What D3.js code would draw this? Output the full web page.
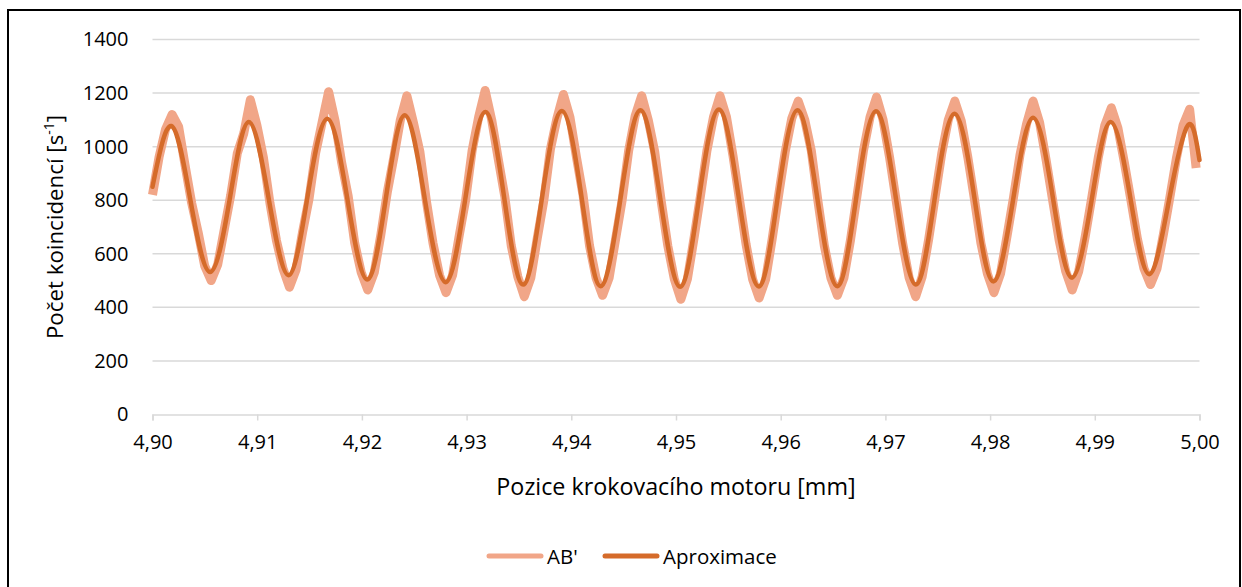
<!DOCTYPE html>
<html>
<head>
<meta charset="utf-8">
<script src="https://cdn.jsdelivr.net/npm/d3@7/dist/d3.min.js"></script>
<style>
  html, body { margin: 0; padding: 0; background: #ffffff; }
  svg { display: block; }
  text { font-family: "Open Sans", "Noto Sans", sans-serif; fill: #000; }
</style>
</head>
<body>
<svg id="chart" width="1242" height="587"></svg>
<script>
// ---------------- data ----------------
const yTicks = [0, 200, 400, 600, 800, 1000, 1200, 1400];
const xTicks = [4.90, 4.91, 4.92, 4.93, 4.94, 4.95, 4.96, 4.97, 4.98, 4.99, 5.00];
const seriesNames = ["AB'", "Aproximace"];

// Measured series AB' (uniform motor-step grid)
const abStart = 4.9000;
const abStep = 0.000623;
const abValues = [
  820, 960, 1065, 1120, 1075, 930, 790, 680, 555, 500,
  560, 690, 820, 975, 1050, 1175, 1080, 960, 790, 650,
  545, 475, 540, 680, 805, 975, 1090, 1205, 1095, 940,
  815, 640, 530, 465, 530, 670, 830, 960, 1100, 1190,
  1090, 980, 795, 640, 520, 455, 520, 665, 800, 985,
  1110, 1210, 1100, 955, 815, 630, 515, 440, 510, 660,
  800, 990, 1105, 1195, 1110, 960, 820, 630, 510, 445,
  510, 655, 800, 985, 1115, 1190, 1100, 980, 795, 630,
  505, 430, 505, 655, 815, 985, 1110, 1190, 1110, 965,
  800, 635, 505, 435, 505, 655, 820, 980, 1105, 1170,
  1100, 985, 800, 630, 510, 445, 510, 650, 815, 985,
  1110, 1185, 1100, 960, 800, 640, 510, 440, 515, 655,
  815, 975, 1100, 1170, 1095, 960, 805, 640, 525, 455,
  525, 665, 810, 970, 1085, 1170, 1090, 950, 800, 650,
  535, 465, 535, 665, 810, 960, 1080, 1145, 1070, 940,
  800, 655, 545, 485, 545, 675, 815, 960, 1080, 1140,
  920
];

// Fitted curve "Aproximace": positions and values read at peaks, troughs and mid-crossings
const aproxX = [
  4.9000, 4.9018, 4.9036, 4.9055, 4.9074, 4.9092, 4.9111, 4.9130, 4.9148, 4.9167,
  4.9186, 4.9205, 4.9223, 4.9241, 4.9260, 4.9280, 4.9299, 4.9318, 4.9336, 4.9354,
  4.9372, 4.9391, 4.9410, 4.9428, 4.9447, 4.9466, 4.9485, 4.9504, 4.9522, 4.9541,
  4.9560, 4.9579, 4.9597, 4.9616, 4.9635, 4.9654, 4.9672, 4.9691, 4.9710, 4.9729,
  4.9747, 4.9766, 4.9785, 4.9803, 4.9822, 4.9841, 4.9860, 4.9878, 4.9897, 4.9915,
  4.9934, 4.9952, 4.9971, 4.9989, 5.0000
];
const aproxY = [
  850, 1077, 805, 532, 810, 1092, 806, 520, 812, 1104,
  808, 504, 810, 1117, 806, 494, 811, 1129, 807, 485,
  809, 1133, 806, 479, 807, 1136, 806, 477, 808, 1139,
  808, 478, 807, 1136, 807, 479, 805, 1132, 808, 485,
  804, 1123, 810, 497, 802, 1108, 809, 511, 801, 1092,
  808, 524, 802, 1080, 950
];

// ---------------- layout ----------------
const svg = d3.select("#chart");
const colorLight = "#F1A688";
const colorDark = "#D56B2A";
const gridColor = "#D9D9D9";
const fontSize = 20;
const titleSize = 22.8;

const x = d3.scaleLinear().domain([4.90, 5.00]).range([152.5, 1199.5]);
const y = d3.scaleLinear().domain([0, 1400]).range([414.5, 39.5]);

// outer border
svg.append("rect")
  .attr("x", 8).attr("y", 10).attr("width", 1232).attr("height", 600)
  .attr("fill", "none").attr("stroke", "#000").attr("stroke-width", 2);

// gridlines
svg.append("g").selectAll("line").data(yTicks.filter(d => d > 0)).join("line")
  .attr("x1", x(4.90)).attr("x2", x(5.00))
  .attr("y1", d => y(d)).attr("y2", d => y(d))
  .attr("stroke", gridColor).attr("stroke-width", 1.5);

// x axis
const xAxis = d3.axisBottom(x).tickValues(xTicks).tickSize(6).tickPadding(14)
  .tickFormat(d => d3.format(".2f")(d).replace(".", ","));
const gx = svg.append("g").attr("transform", `translate(0,${y(0)})`).call(xAxis);
gx.select(".domain").attr("stroke", gridColor).attr("stroke-width", 1.5);
gx.selectAll(".tick line").attr("stroke", gridColor).attr("stroke-width", 1.5);
gx.selectAll(".tick text").attr("font-size", fontSize).attr("font-family", "Open Sans")
  .attr("fill", "#000");

// y axis labels
const yAxis = d3.axisLeft(y).tickValues(yTicks).tickSize(0).tickPadding(24)
  .tickFormat(d3.format("d"));
const gy = svg.append("g").attr("transform", `translate(${x(4.90)},0)`).call(yAxis);
gy.select(".domain").remove();
gy.selectAll(".tick text").attr("font-size", fontSize).attr("font-family", "Open Sans")
  .attr("fill", "#000");

// axis titles
svg.append("text")
  .attr("x", (x(4.90) + x(5.00)) / 2).attr("y", 495)
  .attr("text-anchor", "middle").attr("font-size", titleSize + 0.5)
  .text("Pozice krokovacího motoru [mm]");

const yt = svg.append("text")
  .attr("transform", `translate(63,${(y(0) + y(1400)) / 2}) rotate(-90)`)
  .attr("text-anchor", "middle").attr("font-size", titleSize - 0.5);
yt.append("tspan").text("Počet koincidencí [s");
yt.append("tspan").attr("font-size", 14).attr("dy", -9).text("-1");
yt.append("tspan").attr("dy", 9).text("]");

// series
const abData = abValues.map((v, i) => [abStart + i * abStep, v]);
const aproxData = aproxX.map((v, i) => [v, aproxY[i]]);

svg.append("defs").append("clipPath").attr("id", "plotclip")
  .append("rect").attr("x", x(4.90) - 5).attr("y", 0)
  .attr("width", x(5.00) - x(4.90) + 10).attr("height", y(0));

const lineAB = d3.line().x(d => x(d[0])).y(d => y(d[1])).curve(d3.curveLinear);
const lineAp = d3.line().x(d => x(d[0])).y(d => y(d[1])).curve(d3.curveNatural);

const plot = svg.append("g").attr("clip-path", "url(#plotclip)");
plot.append("path").datum(abData)
  .attr("d", lineAB).attr("fill", "none")
  .attr("stroke", colorLight).attr("stroke-width", 9)
  .attr("stroke-linejoin", "round").attr("stroke-linecap", "butt");
plot.append("path").datum(aproxData)
  .attr("d", lineAp).attr("fill", "none")
  .attr("stroke", colorDark).attr("stroke-width", 4.5)
  .attr("stroke-linejoin", "round").attr("stroke-linecap", "round");

// legend
const legend = svg.append("g");
const legendItems = [
  { name: seriesNames[0], color: colorLight, x1: 489, x2: 541, tx: 547 },
  { name: seriesNames[1], color: colorDark, x1: 605, x2: 657, tx: 663 }
];
legendItems.forEach(it => {
  legend.append("line").attr("x1", it.x1).attr("x2", it.x2)
    .attr("y1", 556).attr("y2", 556)
    .attr("stroke", it.color).attr("stroke-width", 5).attr("stroke-linecap", "round");
  legend.append("text").attr("x", it.tx).attr("y", 556)
    .attr("dominant-baseline", "central").attr("font-size", fontSize + 0.5)
    .text(it.name);
});
</script>
</body>
</html>
